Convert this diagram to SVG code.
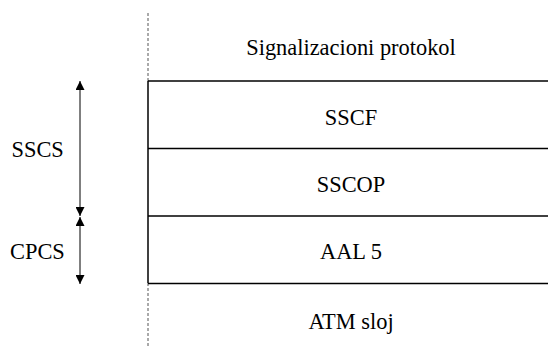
<svg xmlns="http://www.w3.org/2000/svg" width="548" height="347" viewBox="0 0 548 347">
<style>
text{font-family:"Liberation Serif","Times New Roman",serif;font-size:22.4px;fill:#000}
.c{text-anchor:middle}
.ln{stroke:#000;stroke-width:1.5;fill:none}
.ds{stroke:#555;stroke-width:1;stroke-dasharray:3,2;fill:none}
.ar{stroke:#000;stroke-width:1;fill:none}
</style>
<defs>
<marker id="ah" viewBox="0 0 10 10" refX="10" refY="5" markerWidth="9" markerHeight="9" markerUnits="userSpaceOnUse" orient="auto-start-reverse">
<path d="M0,0 L10,5 L0,10 z" fill="#000"/>
</marker>
</defs>
<g id="axis">
<line class="ds" x1="148" y1="13" x2="148" y2="81"/>
<line class="ln" x1="148" y1="81" x2="148" y2="283"/>
<line class="ds" x1="148" y1="283" x2="148" y2="347"/>
</g>
<g id="signalizacioni"><text class="c" x="351" y="54.5">Signalizacioni protokol</text></g>
<g id="sscf">
<line class="ln" x1="148" y1="81" x2="548" y2="81"/>
<text class="c" x="351" y="125">SSCF</text>
</g>
<g id="sscop">
<line class="ln" x1="148" y1="148.5" x2="548" y2="148.5"/>
<text class="c" x="351" y="192">SSCOP</text>
</g>
<g id="aal5">
<line class="ln" x1="148" y1="216" x2="548" y2="216"/>
<text class="c" x="351" y="259">AAL 5</text>
</g>
<g id="atm">
<line class="ln" x1="148" y1="283.5" x2="548" y2="283.5"/>
<text class="c" x="351" y="329">ATM sloj</text>
</g>
<g id="sscs"><text x="11.5" y="157">SSCS</text></g>
<g id="cpcs"><text x="10" y="259">CPCS</text></g>
<g id="connectors">
<line class="ar" x1="80" y1="81" x2="80" y2="216" marker-start="url(#ah)" marker-end="url(#ah)"/>
<line class="ar" x1="80" y1="217" x2="80" y2="284" marker-start="url(#ah)" marker-end="url(#ah)"/>
</g>
</svg>
